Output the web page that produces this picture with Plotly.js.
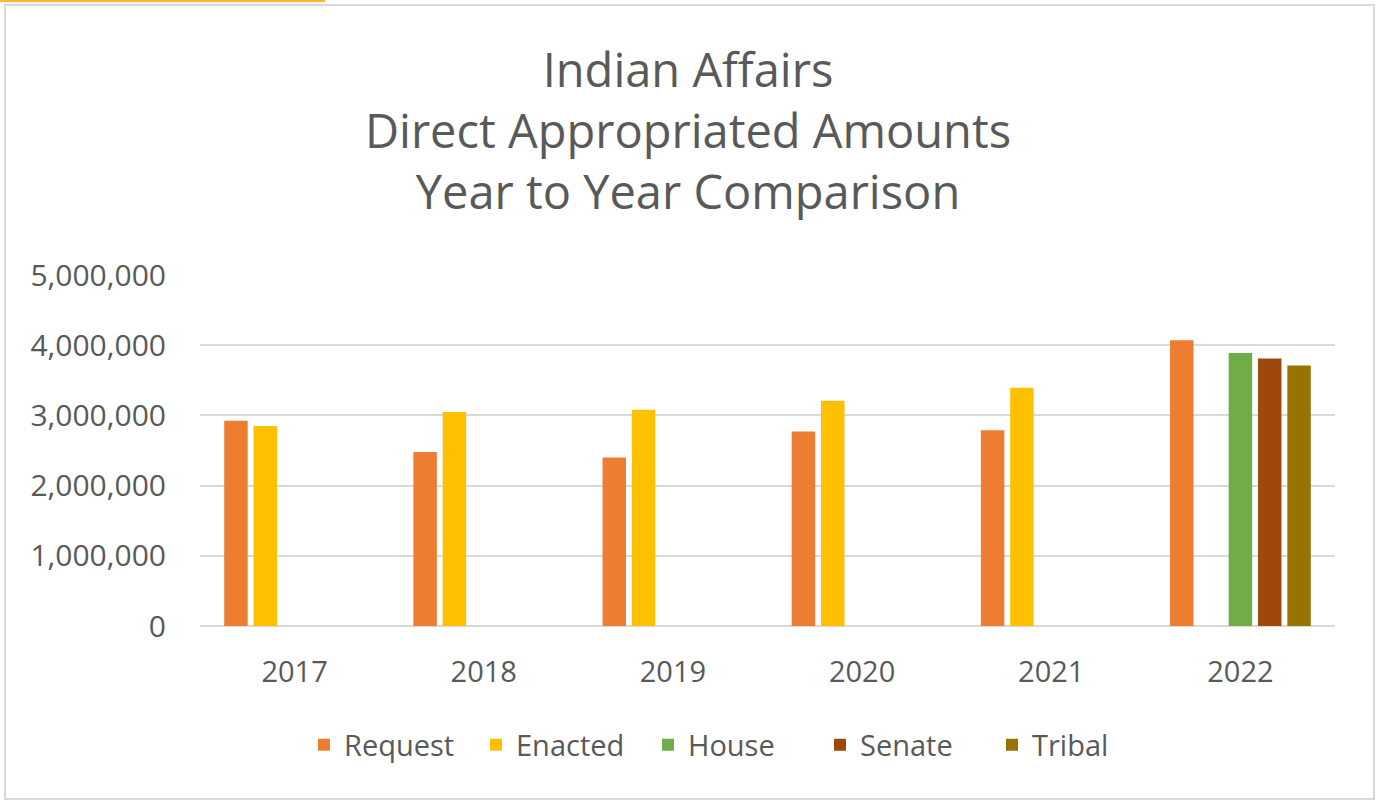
<!DOCTYPE html>
<html>
<head>
<meta charset="utf-8">
<script src="https://cdn.plot.ly/plotly-3.0.1.min.js"></script>
<style>
  html, body { margin: 0; padding: 0; background: #ffffff; }
  #wrap { position: relative; width: 1376px; height: 801px; overflow: hidden; }
  #chart { position: absolute; left: 0; top: 0; width: 1376px; height: 801px; }
  #frame { position: absolute; left: 4px; top: 4px; width: 1367px; height: 792px;
           border: 2px solid #d9d9d9; pointer-events: none; box-sizing: content-box; }
  #strip { position: absolute; left: 0; top: 0; width: 325px; height: 2px; background: #fdb734; pointer-events: none; }
</style>
</head>
<body>
<div id="wrap">
  <div id="chart"></div>
  <div id="frame"></div>
  <div id="strip"></div>
</div>
<script>
// ---- data ----
var years = ["2017", "2018", "2019", "2020", "2021", "2022"];
var request = [2925000, 2480000, 2400000, 2770000, 2790000, 4070000];
var enacted = [2850000, 3050000, 3080000, 3210000, 3395000, null];
var house   = [null, null, null, null, null, 3890000];
var senate  = [null, null, null, null, null, 3810000];
var tribal  = [null, null, null, null, null, 3710000];
var seriesNames = ["Request", "Enacted", "House", "Senate", "Tribal"];
var seriesColors = ["#ED7D31", "#FFC000", "#70AD47", "#9E480E", "#997300"];
var yTickVals = [0, 1000000, 2000000, 3000000, 4000000, 5000000];

var seriesValues = [request, enacted, house, senate, tribal];
var traces = seriesValues.map(function (vals, i) {
  return {
    type: "bar",
    name: seriesNames[i],
    x: years,
    y: vals,
    marker: { color: seriesColors[i], line: { width: 0 } },
    hovertemplate: "%{x}: %{y:,d}<extra>" + seriesNames[i] + "</extra>"
  };
});

var fontFamily = "'Open Sans', 'DejaVu Sans', sans-serif";
var layout = {
  width: 1376,
  height: 801,
  paper_bgcolor: "#ffffff",
  plot_bgcolor: "#ffffff",
  font: { family: fontFamily, color: "#595959", size: 29 },
  margin: { l: 200, r: 41, t: 275, b: 175, pad: 0 },
  title: {
    text: "Indian Affairs<br>Direct Appropriated Amounts<br>Year to Year Comparison",
    font: { family: fontFamily, size: 47, color: "#595959" },
    xref: "container", x: 0.5, xanchor: "center",
    yref: "container", y: 1 - 87 / 801, yanchor: "middle"
  },
  barmode: "group",
  bargap: 0.225,
  bargroupgap: 0.2,
  xaxis: {
    type: "category",
    showgrid: false,
    showline: false,
    ticks: "",
    ticklabelstandoff: 26,
    tickfont: { size: 29, color: "#595959" },
    fixedrange: true
  },
  yaxis: {
    range: [0, 5000000],
    tickvals: yTickVals,
    tickformat: ",d",
    showgrid: true,
    gridcolor: "#d9d9d9",
    gridwidth: 2,
    zeroline: true,
    zerolinecolor: "#d9d9d9",
    zerolinewidth: 2,
    showline: false,
    ticks: "",
    ticklabelstandoff: 33,
    tickfont: { size: 30, color: "#595959" },
    fixedrange: true
  },
  showlegend: true,
  legend: {
    orientation: "h",
    xref: "container", x: 734 / 1376, xanchor: "center",
    yref: "container", y: 1 - 745 / 801, yanchor: "middle",
    font: { size: 29, color: "#595959" },
    entrywidth: 127,
    entrywidthmode: "pixels",
    itemwidth: 30,
    traceorder: "normal",
    bgcolor: "rgba(0,0,0,0)"
  }
};

Plotly.newPlot("chart", traces, layout, { displayModeBar: false, staticPlot: false });
</script>
</body>
</html>
